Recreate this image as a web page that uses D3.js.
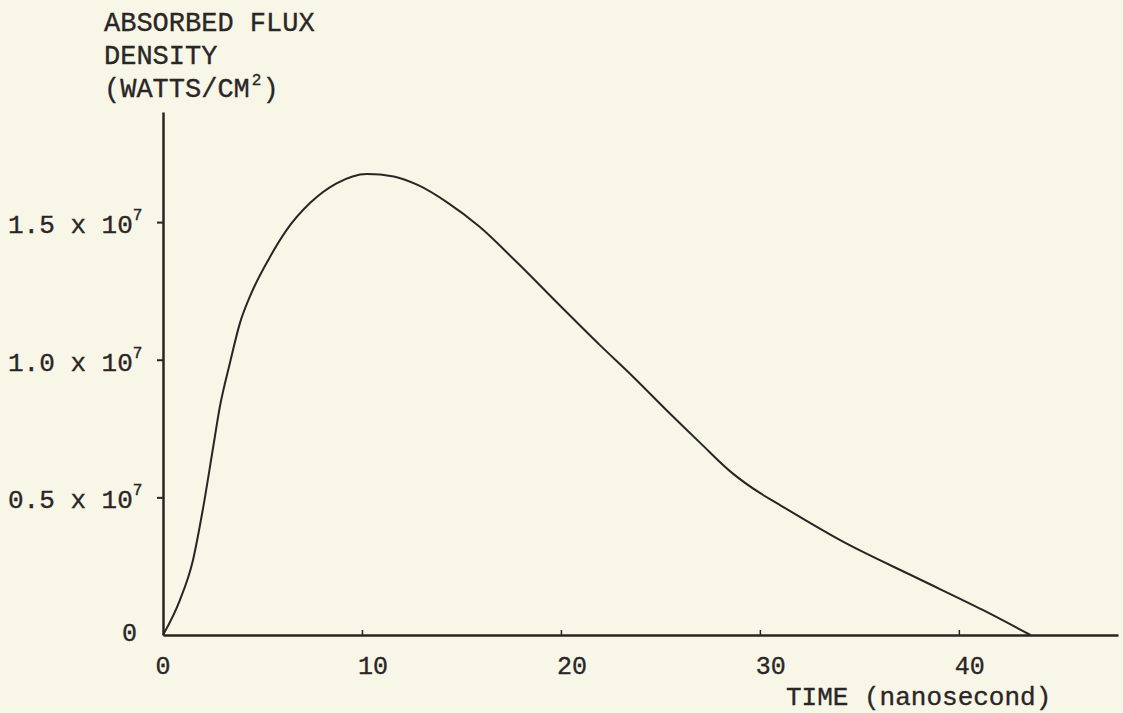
<!DOCTYPE html>
<html>
<head>
<meta charset="utf-8">
<script src="https://cdn.jsdelivr.net/npm/d3@7"></script>
<style>
  html, body { margin: 0; padding: 0; background: #f8f6e7; }
  svg { display: block; }
  text { font-family: "Liberation Mono", "DejaVu Sans Mono", monospace; fill: #2a2626; stroke: #2a2626; stroke-width: 0.35px; }
</style>
</head>
<body>
<svg width="1123" height="713"></svg>
<script>
// time (ns) and absorbed flux density (x 10^7 W/cm^2)
const times = [0, 0.85, 1.5, 2.0, 2.5, 2.86, 3.37, 3.87, 4.37, 5.35, 6.2, 7.4, 8.7, 10.25, 11.6, 12.8, 14.3, 15.9, 17.8, 19.95, 21.96, 23.6, 25.4, 27.0, 28.6, 30.0, 30.85, 34.2, 37.9, 41.2, 43.6];
const flux = [0, 0.127, 0.27, 0.455, 0.673, 0.83, 0.99, 1.134, 1.23, 1.37, 1.47, 1.57, 1.64, 1.675, 1.666, 1.635, 1.571, 1.484, 1.353, 1.197, 1.053, 0.94, 0.81, 0.698, 0.589, 0.516, 0.479, 0.338, 0.207, 0.091, 0];

const xTicks = [0, 10, 20, 30, 40];
const yTicks = [0.5, 1.0, 1.5];
const yTickLabels = ["0.5 x 10", "1.0 x 10", "1.5 x 10"];
const titleLines = ["ABSORBED FLUX", "DENSITY", "(WATTS/CM"];

const svg = d3.select("svg");
const ink = "#2b2424";

// scales
const x = d3.scaleLinear().domain([0, 48]).range([163, 1118]);
const y = d3.scaleLinear().domain([0, 1.9]).range([635, 112]);

// x axis with small upward ticks
const xAxis = svg.append("g")
    .attr("transform", `translate(0,${y(0)})`)
    .call(d3.axisTop(x).tickValues(xTicks.slice(1)).tickSize(5).tickFormat("").tickSizeOuter(0));
xAxis.select(".domain").attr("stroke", ink).attr("stroke-width", 2.5);
xAxis.selectAll(".tick line").attr("stroke", ink).attr("stroke-width", 1.5);

// y axis with ticks to the left
const yAxis = svg.append("g")
    .attr("transform", `translate(${x(0)},0)`)
    .call(d3.axisLeft(y).tickValues(yTicks).tickSize(6).tickFormat("").tickSizeOuter(0));
yAxis.select(".domain").attr("stroke", ink).attr("stroke-width", 2.5);
yAxis.selectAll(".tick line").attr("stroke", ink).attr("stroke-width", 2);

// x tick labels
svg.selectAll(".xlab")
  .data(xTicks)
  .enter()
  .append("text")
    .attr("x", d => x(d) + (d === 0 ? 0 : 11))
    .attr("y", 674)
    .attr("text-anchor", "middle")
    .style("font-size", "25px")
    .text(d => d);

// y tick labels with superscript exponent
yTicks.forEach((v, i) => {
    const t = svg.append("text")
        .attr("x", 8)
        .attr("y", y(v) + 11)
        .style("font-size", "26px")
        .text(yTickLabels[i]);
    t.append("tspan")
        .attr("dy", -13)
        .style("font-size", "16px")
        .text("7");
});

svg.append("text")
    .attr("x", 122)
    .attr("y", 641)
    .style("font-size", "25px")
    .text("0");

// y axis title
titleLines.forEach((line, i) => {
    const t = svg.append("text")
        .attr("x", 104)
        .attr("y", 31 + i * 33)
        .style("font-size", "27px")
        .text(line);
    if (i === 2) {
        t.append("tspan").attr("dy", -12).attr("dx", 2).style("font-size", "16px").text("2");
        t.append("tspan").attr("dy", 12).attr("dx", 1).text(")");
    }
});

// x axis title
svg.append("text")
    .attr("x", 786)
    .attr("y", 705)
    .style("font-size", "26px")
    .text("TIME (nanosecond)");

// the curve
const line = d3.line()
    .x((d, i) => x(times[i]))
    .y(d => y(d))
    .curve(d3.curveMonotoneX);

svg.append("path")
    .datum(flux)
    .attr("fill", "none")
    .attr("stroke", ink)
    .attr("stroke-width", 2)
    .attr("d", line);
</script>
</body>
</html>
